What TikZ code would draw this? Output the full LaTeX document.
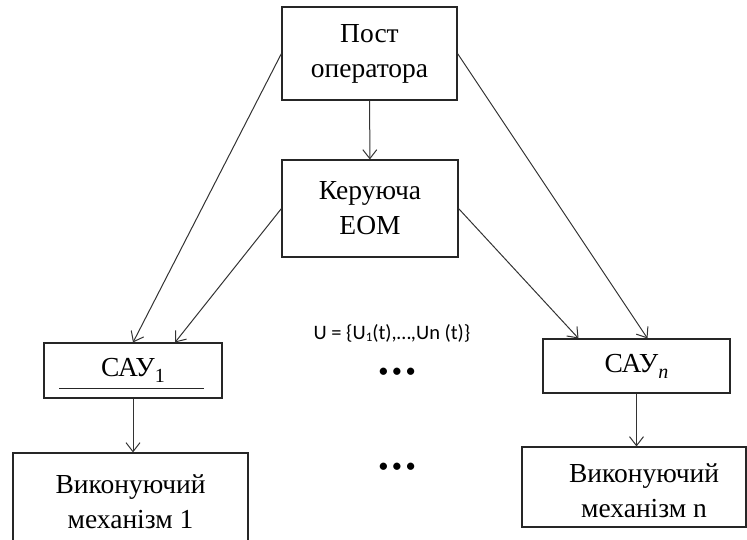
\documentclass[tikz,border=0pt]{standalone}
\usepackage{fontspec}
\setmainfont{Liberation Serif}
\newfontfamily\carl{Carlito}
\usetikzlibrary{arrows.meta,calc}
\begin{document}
\begin{tikzpicture}[x=1pt,y=-1pt,
  box/.style={draw=black!85, line width=1.1pt, inner sep=0pt, align=center, font=\fontsize{27.5}{35}\selectfont},
  lbl/.style={align=center, inner sep=0pt, font=\fontsize{27.5}{35}\selectfont},
  arr/.style={draw=black!80, line width=1pt, -{Straight Barb[length=9pt,width=14pt]}},
  sans/.style={inner sep=0pt, font=\carl\fontsize{20.5}{20.5}\selectfont}]
\useasboundingbox (0,0) rectangle (747,539);
\node[box, minimum width=175, minimum height=93] (post) at (369.5,53.5) {Пост\\оператора};
\node[box, minimum width=176, minimum height=97] (ker) at (370,208.5) {Керуюча\\ЕОМ};
\node[box, minimum width=178, minimum height=55] (sau1) at (133,370.5) {САУ\raisebox{-6pt}{\fontsize{20}{20}\selectfont 1}};
\node[box, minimum width=187, minimum height=54] (saun) at (636.5,366) {САУ\raisebox{-6pt}{\fontsize{20}{20}\selectfont\itshape n}};
\node[box, minimum width=235, minimum height=98] (vyk1) at (130.5,502) {Виконуючий\\механізм 1};
\node[box, minimum width=224, minimum height=80] (vykn) at (634,487) {};
\node[lbl] (vyknt) at (644,491) {Виконуючий\\механізм n};
\draw[draw=black!85, line width=1pt] ($(sau1.south west)+(16,-10)$) -- ($(sau1.south east)+(-19,-10)$);
\node[sans] (uset) at (392,333) {U = \{U\raisebox{-2pt}{\fontsize{13}{13}\selectfont 1}(t),…,Un (t)\}};
\node[sans] (dots1) at (397,373) {•\,•\,•};
\node[sans] (dots2) at (397,468) {•\,•\,•};
\draw[arr] (post) -- (ker);
\draw[arr] (post.west) -- (sau1.north);
\draw[arr] (ker.west) -- ([xshift=42pt]sau1.north);
\draw[arr] (post.east) -- ([xshift=11pt]saun.north);
\draw[arr] (ker.east) -- ([xshift=-58pt]saun.north);
\draw[arr] (sau1.south) -- (sau1.south |- vyk1.north);
\draw[arr] (saun.south) -- (saun.south |- vykn.north);
\end{tikzpicture}
\end{document}
